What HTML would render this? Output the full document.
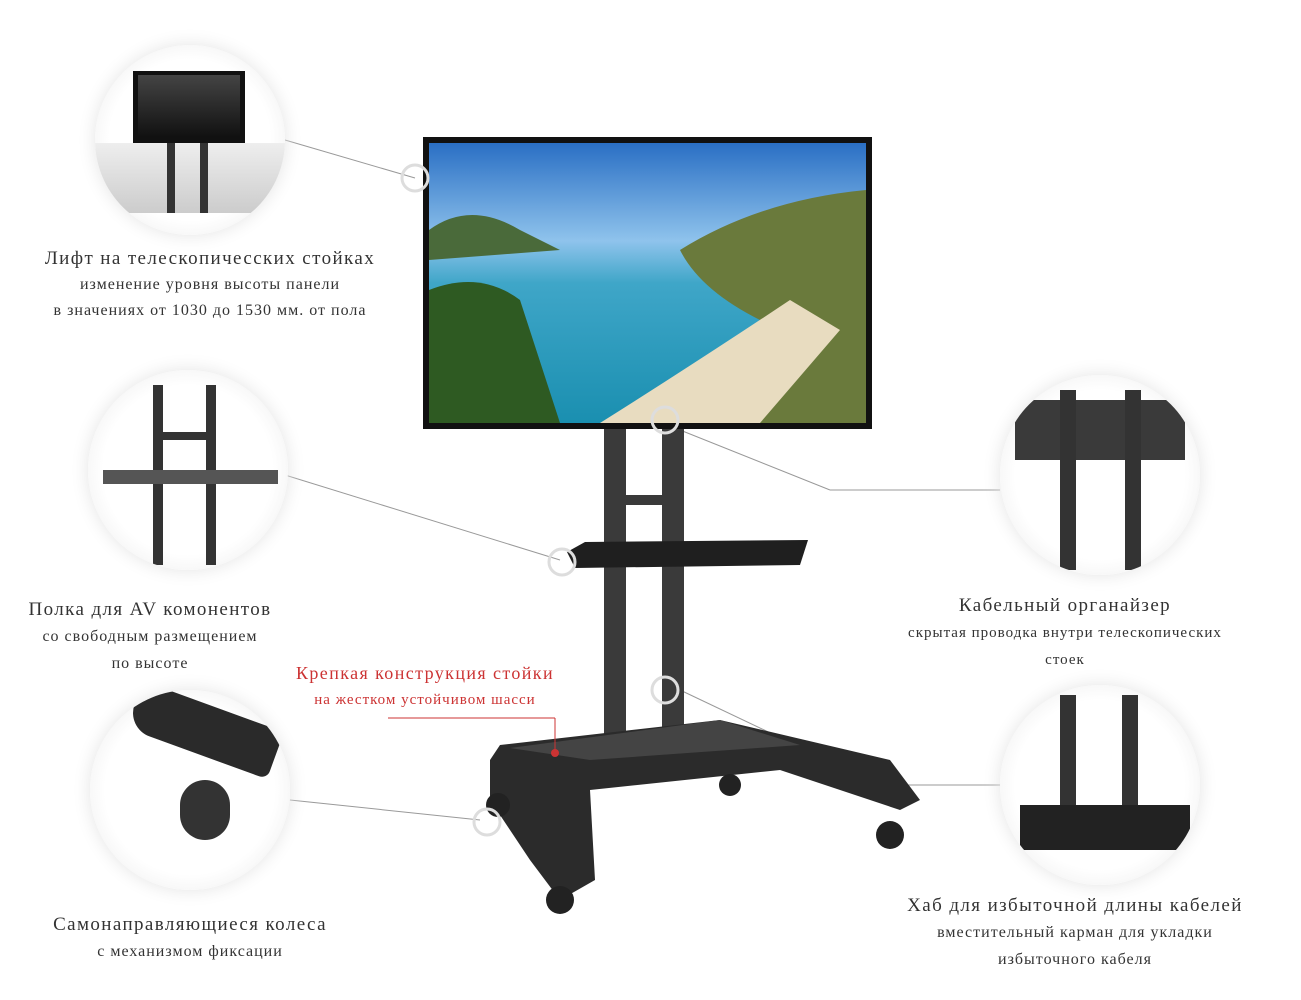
<!DOCTYPE html>
<html><head><meta charset="utf-8"><style>
body{margin:0;width:1301px;height:1000px;background:#fff;position:relative;overflow:hidden;font-family:"Liberation Serif",serif;}
.t{position:absolute;text-align:center;color:#333;white-space:nowrap;letter-spacing:1.4px;}
.t span{letter-spacing:1px;}
.circ{position:absolute;border-radius:50%;background:radial-gradient(circle,#fff 60%,#f2f2f2 80%,#fff 100%);box-shadow:0 0 18px #e4e4e4;overflow:hidden;}
</style></head><body>
<svg width="1301" height="1000" style="position:absolute;left:0;top:0">
<defs>
<linearGradient id="sky" x1="0" y1="0" x2="0" y2="1"><stop offset="0" stop-color="#2a6fc4"/><stop offset="0.35" stop-color="#8fc3ec"/><stop offset="0.5" stop-color="#3fa6c8"/><stop offset="1" stop-color="#1a8fb0"/></linearGradient>
</defs>
<g stroke="#999" stroke-width="1" fill="none">
<line x1="285" y1="140" x2="415" y2="178"/>
<line x1="285" y1="475" x2="560" y2="560"/>
<line x1="830" y1="490" x2="1000" y2="490"/>
<line x1="680" y1="430" x2="830" y2="490"/>
<line x1="290" y1="800" x2="480" y2="820"/>
<line x1="680" y1="690" x2="880" y2="785"/>
<line x1="880" y1="785" x2="1000" y2="785"/>
</g>
<rect x="423" y="137" width="449" height="292" fill="#111"/>
<rect x="429" y="143" width="437" height="280" fill="url(#sky)"/>
<path d="M429 230 Q470 200 520 230 L560 250 L429 260Z" fill="#4a6a3a"/>
<path d="M680 250 Q760 200 866 190 L866 423 L640 423 Q700 360 760 320 Q700 290 680 250Z" fill="#6a7a3c"/>
<path d="M600 423 Q700 360 790 300 L840 330 L760 423Z" fill="#e8dcc0"/>
<path d="M429 290 Q480 270 520 300 L560 423 L429 423Z" fill="#2e5a22"/>
<rect x="604" y="429" width="22" height="320" fill="#3a3a3a"/>
<rect x="662" y="429" width="22" height="320" fill="#3a3a3a"/>
<rect x="626" y="495" width="36" height="10" fill="#3a3a3a"/>
<path d="M567 552 L585 542 L808 540 L800 565 L575 568Z" fill="#1f1f1f"/>
<path d="M490 760 L500 745 L720 720 L890 760 L920 800 L900 810 L780 770 L590 790 L595 880 L560 900 L530 860 L490 800Z" fill="#2b2b2b"/>
<path d="M510 748 L720 720 L800 745 L590 760Z" fill="#444"/>
<circle cx="560" cy="900" r="14" fill="#222"/><circle cx="730" cy="785" r="11" fill="#222"/><circle cx="890" cy="835" r="14" fill="#222"/><circle cx="498" cy="805" r="12" fill="#222"/>
<g fill="none" stroke="#ddd" stroke-width="3"><circle cx="415" cy="178" r="13"/><circle cx="665" cy="420" r="13"/><circle cx="562" cy="562" r="13"/><circle cx="665" cy="690" r="13"/><circle cx="487" cy="822" r="13"/></g>
<line x1="388" y1="718" x2="555" y2="718" stroke="#c33"/><line x1="555" y1="718" x2="555" y2="752" stroke="#c33"/><circle cx="555" cy="753" r="4" fill="#c33"/>
</svg>
<div class="circ" style="left:95px;top:45px;width:190px;height:190px">
<div style="position:absolute;left:0;top:98px;width:190px;height:70px;background:linear-gradient(#eee,#ccc)"></div>
<div style="position:absolute;left:38px;top:26px;width:112px;height:72px;background:#111"></div>
<div style="position:absolute;left:43px;top:30px;width:102px;height:62px;background:linear-gradient(#444,#111)"></div>
<div style="position:absolute;left:72px;top:98px;width:8px;height:70px;background:#333"></div>
<div style="position:absolute;left:105px;top:98px;width:8px;height:70px;background:#333"></div></div>
<div class="circ" style="left:88px;top:370px;width:200px;height:200px">
<div style="position:absolute;left:65px;top:15px;width:10px;height:180px;background:#333"></div>
<div style="position:absolute;left:118px;top:15px;width:10px;height:180px;background:#333"></div>
<div style="position:absolute;left:75px;top:62px;width:43px;height:8px;background:#333"></div>
<div style="position:absolute;left:15px;top:100px;width:175px;height:14px;background:#555"></div></div>
<div class="circ" style="left:90px;top:690px;width:200px;height:200px">
<div style="position:absolute;left:40px;top:15px;width:150px;height:50px;background:#2a2a2a;border-radius:30px 10px 10px 30px;transform:rotate(20deg)"></div>
<div style="position:absolute;left:90px;top:90px;width:50px;height:60px;background:#333;border-radius:25px"></div></div>
<div class="circ" style="left:1000px;top:375px;width:200px;height:200px">
<div style="position:absolute;left:15px;top:25px;width:170px;height:60px;background:#3a3a3a"></div>
<div style="position:absolute;left:60px;top:15px;width:16px;height:180px;background:#333"></div>
<div style="position:absolute;left:125px;top:15px;width:16px;height:180px;background:#333"></div></div>
<div class="circ" style="left:1000px;top:685px;width:200px;height:200px">
<div style="position:absolute;left:60px;top:10px;width:16px;height:120px;background:#333"></div>
<div style="position:absolute;left:122px;top:10px;width:16px;height:120px;background:#333"></div>
<div style="position:absolute;left:20px;top:120px;width:170px;height:45px;background:#222"></div></div>
<div class="t" style="left:10px;top:246px;width:400px;font-size:19px;line-height:25px">Лифт на телескопичесских стойках<br><span style="font-size:16px">изменение уровня высоты панели<br>в значениях от 1030 до 1530 мм. от пола</span></div>
<div class="t" style="left:0px;top:597px;width:300px;font-size:19px;line-height:26px">Полка для AV комонентов<br><span style="font-size:16px">со свободным размещением<br>по высоте</span></div>
<div class="t" style="left:255px;top:661px;width:340px;font-size:18px;line-height:25px;color:#c33">Крепкая конструкция стойки<br><span style="font-size:15px">на жестком устойчивом шасси</span></div>
<div class="t" style="left:20px;top:912px;width:340px;font-size:19px;line-height:26px">Самонаправляющиеся колеса<br><span style="font-size:16px">с механизмом фиксации</span></div>
<div class="t" style="left:855px;top:593px;width:420px;font-size:19px;line-height:26px">Кабельный органайзер<br><span style="font-size:15px">скрытая проводка внутри телескопических<br>стоек</span></div>
<div class="t" style="left:865px;top:893px;width:420px;font-size:19px;line-height:26px">Хаб для избыточной длины кабелей<br><span style="font-size:16px">вместительный карман для укладки<br>избыточного кабеля</span></div>
</body></html>
